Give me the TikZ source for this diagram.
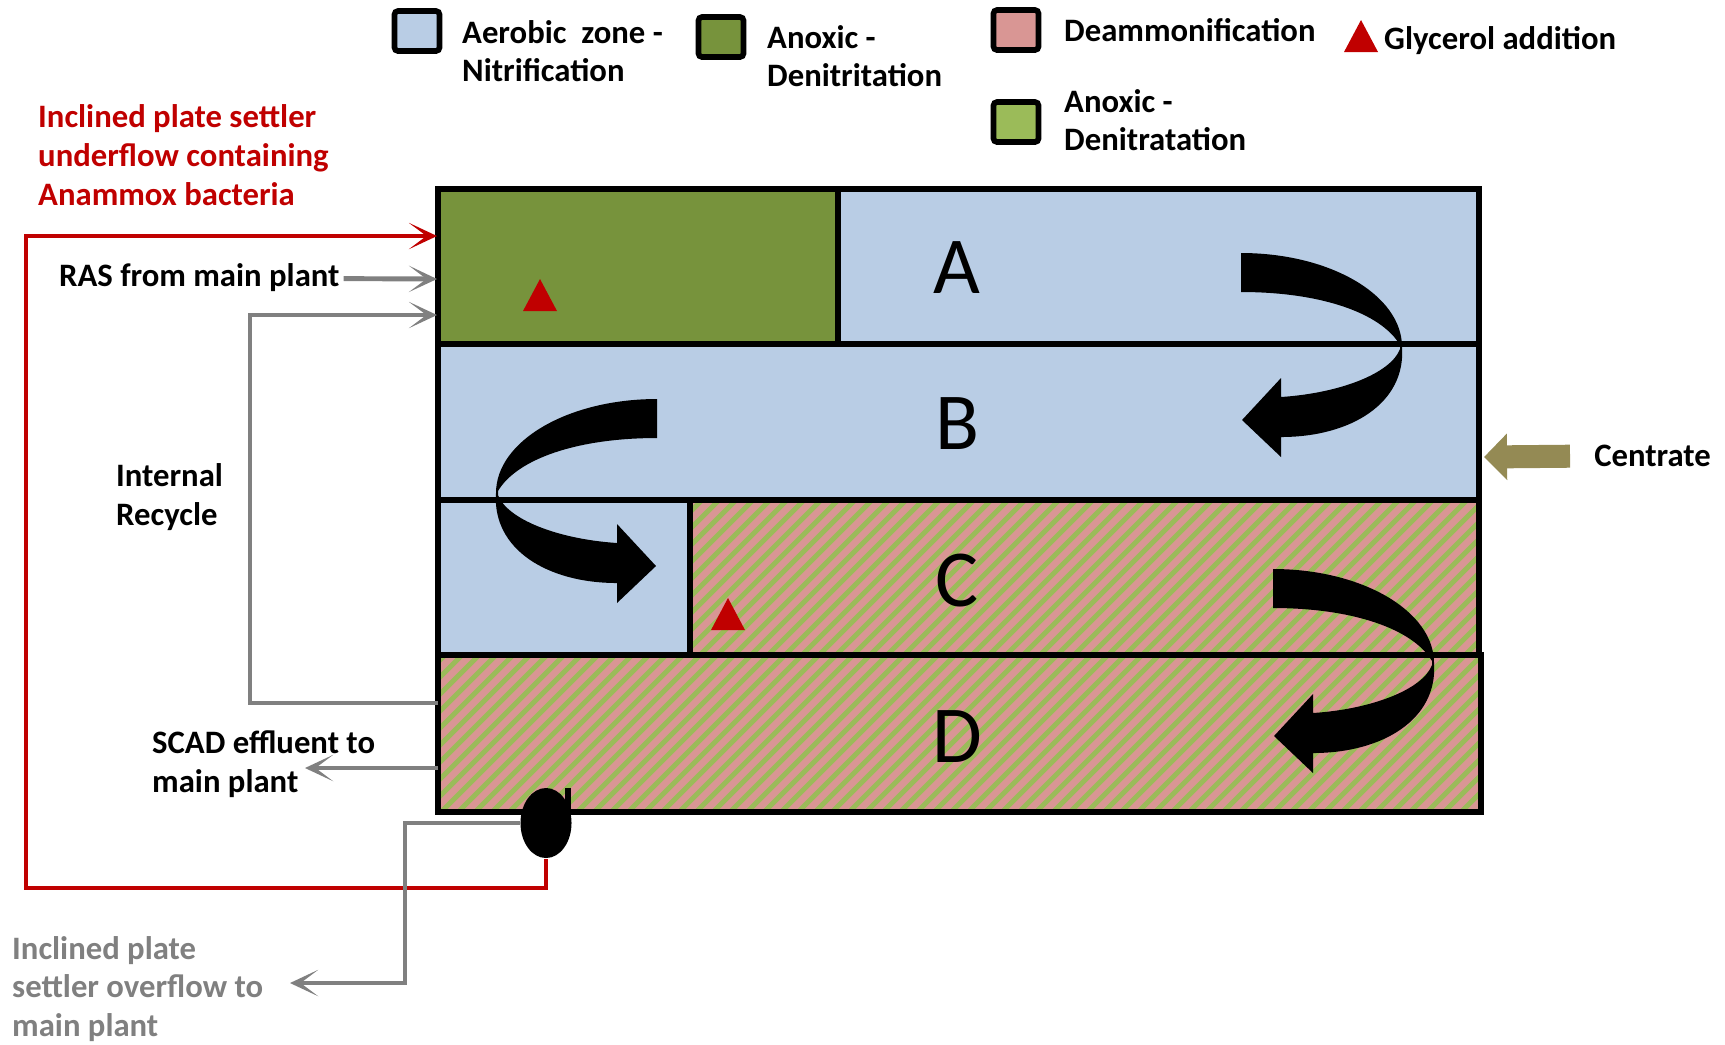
\documentclass[tikz,border=0pt]{standalone}
\usepackage{fontspec}
\setmainfont{Carlito}
\usepackage{xcolor}
\usetikzlibrary{arrows.meta, shapes.geometric}

\definecolor{aerobic}{HTML}{B9CDE5}
\definecolor{anoxdark}{HTML}{77933C}
\definecolor{deammon}{HTML}{D99694}
\definecolor{anoxlight}{HTML}{9BBB59}
\definecolor{plantred}{HTML}{C00000}
\definecolor{pipegray}{HTML}{808080}
\definecolor{centrate}{HTML}{948A54}

\begin{document}
\begin{tikzpicture}[x=0.01cm, y=-0.01cm, every node/.style={font=\bfseries\fontsize{9.3}{11}\selectfont}]
    \tikzset{
        legbox/.style={draw, line width=1.6pt, rounded corners=1pt, minimum width=0.45cm, minimum height=0.4cm, inner sep=0pt},
        note/.style={anchor=west, align=left, inner sep=1pt},
        letter/.style={font=\fontsize{23}{23}\selectfont},
        zoneline/.style={draw=black, line width=1.5pt},
        stripe/.style={draw=anoxlight, line width=1.4pt},
        graypipe/.style={draw=pipegray, line width=1.4pt, -{Stealth[length=8pt, width=7.5pt, inset=5pt]}},
        redpipe/.style={draw=plantred, line width=1.3pt, -{Stealth[length=8pt, width=7.5pt, inset=5pt]}},
        feed/.style={draw=centrate, line width=0.23cm, shorten <=0.2cm, -{Triangle[width=0.45cm, length=0.23cm]}},
        flowturn/.pic={
            \fill (0,0) .. controls (89,0) and (161,42) .. (161,94)
                .. controls (165,150) and (110,184) .. (40,184)
                -- (40,204) -- (1,167) -- (40,125) -- (40,144)
                .. controls (100,140) and (150,120) .. (159,96)
                -- (159,92) .. controls (140,60) and (80,39) .. (0,39) -- cycle;
        },
        dosemark/.pic={
            \fill[plantred] (-17,0) -- (0,-32) -- (17,0) -- cycle;
        }
    }
    \useasboundingbox (0,0) rectangle (1725,1044);

    % legend
    \node[legbox, fill=aerobic] (keyaero) at (417,31) {};
    \node[legbox, fill=anoxdark] (keyanox) at (721,37) {};
    \node[legbox, fill=deammon] (keydeam) at (1016,30) {};
    \node[legbox, fill=anoxlight] (keynitra) at (1016,122) {};
    \pic at (1361,52) {dosemark};

    \node[note] (aerotxt) at (458,51) {Aerobic\ \ zone -\\Nitrification};
    \node[note] (anoxtxt) at (763,56) {Anoxic -\\Denitritation};
    \node[note] (deamtxt) at (1060,30) {Deammonification};
    \node[note] (glytxt) at (1380,41) {Glycerol addition};
    \node[note] (nitratxt) at (1060,120) {Anoxic -\\Denitratation};

    % tank
    \fill[anoxdark] (438,189) rectangle (838,344);
    \fill[aerobic] (838,189) rectangle (1479,344);
    \fill[aerobic] (438,344) rectangle (1479,500);
    \fill[aerobic] (438,500) rectangle (690,655);
    \fill[deammon] (690,500) rectangle (1479,655) (438,655) rectangle (1481,812);
    \begin{scope}
        \clip (690,500) rectangle (1479,655) (438,655) rectangle (1481,812);
        \foreach \s in {110,127,...,1500} {
            \draw[stripe] (\s,820) -- ++(340,-340);
        }
    \end{scope}

    \draw[zoneline] (438,189) rectangle (1479,344) (838,189) -- (838,344);
    \draw[zoneline] (438,344) rectangle (1479,500);
    \draw[zoneline] (438,500) rectangle (1479,655) (690,500) -- (690,655);
    \draw[zoneline] (438,655) rectangle (1481,812);

    \foreach \zname/\zy in {A/268, B/424, C/581, D/737} {
        \node[letter] (zone\zname) at (957,\zy) {\zname};
    }

    % flow between rows
    \pic at (1241,253) {flowturn};
    \pic[xscale=-1] at (657,399) {flowturn};
    \pic at (1273,569) {flowturn};

    \pic at (540,311) {dosemark};
    \pic at (728,630) {dosemark};

    % settler pump
    \node[ellipse, fill=black, minimum width=0.51cm, minimum height=0.7cm, inner sep=0pt] (pump) at (546,823) {};
    \fill (565,788) rectangle (571,812);

    \coordinate (underin) at (437,236);
    \coordinate (rasin) at (437,279);
    \coordinate (recycin) at (437,315);
    \coordinate (recycout) at (438,703);
    \coordinate (scadout) at (438,768);
    \coordinate (scadtip) at (305,768);
    \coordinate (ovftip) at (290,983);
    \coordinate (centin) at (1484,457);

    \node[note, text=plantred] (underflow) at (34,155) {Inclined plate settler\\underflow containing\\Anammox bacteria};
    \node[note] (ras) at (55,278) {RAS from main plant};
    \node[note] (recycle) at (112,497) {Internal\\Recycle};
    \node[note] (scad) at (148,764) {SCAD effluent to\\main plant};
    \node[note, text=pipegray] (overflow) at (8,989) {Inclined plate\\settler overflow to\\main plant};
    \node[note] (centrate) at (1590,456) {Centrate};

    \draw[redpipe] (pump.south) |- (26,888) |- (underin);
    \draw[graypipe] (ras) -- (rasin);
    \draw[graypipe] (recycout) -- ++(-188,0) |- (recycin);
    \draw[graypipe] (scadout) -- (scadtip);
    \draw[graypipe] (pump.west) -| (405,983) -- (ovftip);
    \draw[feed] (centrate.west) -- (centin);
\end{tikzpicture}
\end{document}
